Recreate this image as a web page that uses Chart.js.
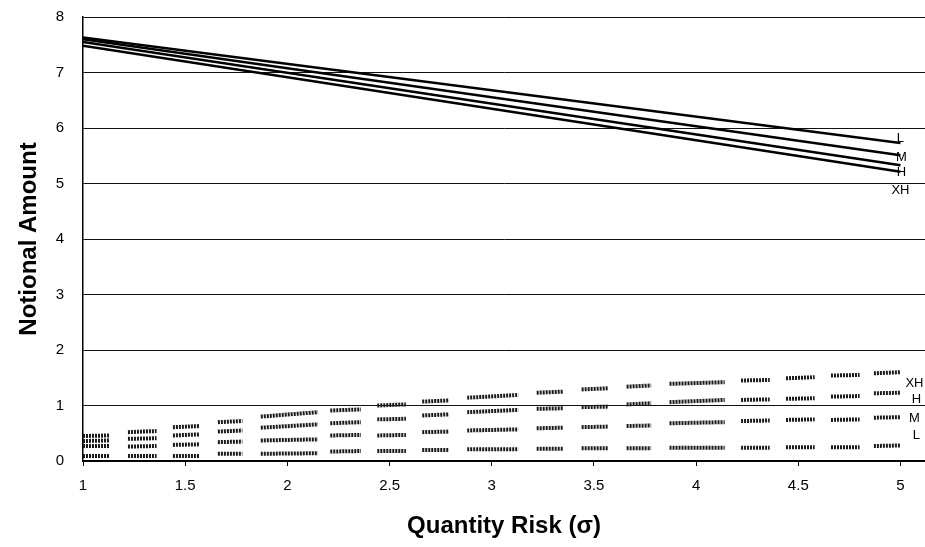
<!DOCTYPE html>
<html>
<head>
<meta charset="utf-8">
<script src="https://cdn.jsdelivr.net/npm/chart.js@4.4.1/dist/chart.umd.min.js"></script>
<style>
    body { margin: 0; background: #fff; }
    #wrap { width: 925px; height: 547px; }
</style>
</head>
<body>
<div id="wrap"><canvas id="chart"></canvas></div>
<script>
// upper straight lines: value at sigma = 1 and sigma = 5
const topX = [1, 5];
const topL = [7.63, 5.73];
const topM = [7.60, 5.51];
const topH = [7.55, 5.33];
const topXH = [7.48, 5.21];

// lower series are drawn as short runs (start / end sigma of each run)
const runStart = [1.00, 1.22, 1.44, 1.66, 1.87, 2.21, 2.44, 2.66, 2.88, 3.22, 3.44, 3.66, 3.87, 4.22, 4.44, 4.66, 4.87];
const runEnd   = [1.13, 1.36, 1.57, 1.78, 2.15, 2.36, 2.58, 2.79, 3.13, 3.35, 3.57, 3.78, 4.14, 4.36, 4.58, 4.80, 5.00];

// [value at run start, value at run end]
const lowXH = [[.45,.46],[.52,.54],[.61,.63],[.70,.72],[.80,.88],[.91,.93],[1.00,1.02],[1.07,1.09],[1.14,1.19],[1.23,1.25],[1.29,1.31],[1.34,1.36],[1.39,1.42],[1.45,1.46],[1.49,1.51],[1.54,1.55],[1.58,1.60]];
const lowH  = [[.36,.37],[.40,.41],[.46,.48],[.53,.55],[.60,.66],[.68,.70],[.75,.76],[.82,.84],[.88,.92],[.94,.95],[.97,.98],[1.02,1.04],[1.06,1.10],[1.10,1.11],[1.12,1.13],[1.16,1.17],[1.22,1.23]];
const lowM  = [[.27,.27],[.26,.27],[.29,.30],[.34,.35],[.37,.39],[.46,.47],[.46,.47],[.52,.53],[.55,.57],[.59,.60],[.61,.62],[.63,.64],[.68,.70],[.72,.73],[.74,.75],[.74,.75],[.78,.79]];
const lowL  = [[.09,.09],[.09,.09],[.09,.09],[.13,.13],[.13,.14],[.17,.18],[.18,.18],[.20,.20],[.21,.21],[.22,.22],[.23,.23],[.23,.23],[.24,.24],[.24,.24],[.25,.25],[.25,.25],[.27,.28]];

const xTicks = [1, 1.5, 2, 2.5, 3, 3.5, 4, 4.5, 5];

// label placement next to each series end (pixel offsets)
const labelStyle = {
    topL:  { dx: 0,  dy: -5 },
    topM:  { dx: 1,  dy: 2 },
    topH:  { dx: 1,  dy: 7 },
    topXH: { dx: 0,  dy: 19 },
    lowXH: { dx: 14, dy: 11 },
    lowH:  { dx: 16, dy: 7 },
    lowM:  { dx: 14, dy: 1 },
    lowL:  { dx: 16, dy: -10 }
};

const FONT = "'Liberation Sans', Arial, sans-serif";

const topData = (vals) => topX.map((x, i) => ({ x: x, y: vals[i] }));

const lowData = (pairs) => {
    const out = [];
    pairs.forEach((p, i) => {
        out.push({ x: runStart[i], y: p[0] });
        out.push({ x: runEnd[i], y: p[1] });
        if (i < pairs.length - 1) {
            out.push({ x: (runEnd[i] + runStart[i + 1]) / 2, y: null });
        }
    });
    return out;
};

const topSet = (key, vals) => ({
    label: key,
    data: topData(vals),
    borderColor: "#000",
    borderWidth: 2.5,
    pointRadius: 0,
    tension: 0
});

const lowSet = (key, vals) => ({
    label: key,
    data: lowData(vals),
    borderColor: "#1a1a1a",
    borderWidth: 4,
    borderDash: [2, 1],
    borderCapStyle: "butt",
    pointRadius: 0,
    spanGaps: false,
    tension: 0
});

const endLabels = {
    id: "endLabels",
    afterDatasetsDraw(chart) {
        const ctx = chart.ctx;
        const xs = chart.scales.x;
        const ys = chart.scales.y;
        ctx.save();
        ctx.font = "13px " + FONT;
        ctx.fillStyle = "#000";
        ctx.textAlign = "center";
        ctx.textBaseline = "middle";
        chart.data.datasets.forEach((ds) => {
            const pts = ds.data;
            const last = pts[pts.length - 1];
            const st = labelStyle[ds.label];
            const text = ds.label.replace(/^(top|low)/, "");
            ctx.fillText(text, xs.getPixelForValue(5) + st.dx, ys.getPixelForValue(last.y) + st.dy);
        });
        ctx.restore();
    }
};

new Chart(document.querySelector("#chart"), {
    type: "line",
    data: {
        datasets: [
            topSet("topL", topL),
            topSet("topM", topM),
            topSet("topH", topH),
            topSet("topXH", topXH),
            lowSet("lowXH", lowXH),
            lowSet("lowH", lowH),
            lowSet("lowM", lowM),
            lowSet("lowL", lowL)
        ]
    },
    options: {
        responsive: true,
        maintainAspectRatio: false,
        animation: false,
        layout: {
            padding: { top: 17, right: 0, left: 0, bottom: 0 }
        },
        scales: {
            x: {
                type: "linear",
                min: 1,
                max: 5.12,
                afterBuildTicks: (scale) => {
                    scale.ticks = xTicks.map((v) => ({ value: v }));
                },
                afterFit: (scale) => {
                    scale.height = 86;
                    scale.paddingLeft = 0;
                    scale.paddingRight = 0;
                },
                ticks: {
                    color: "#000",
                    padding: 11,
                    maxRotation: 0,
                    font: { family: FONT, size: 15 },
                    callback: (v) => String(v)
                },
                grid: {
                    drawOnChartArea: false,
                    tickLength: 5,
                    color: "#000"
                },
                border: { color: "#000", width: 1.5 },
                title: {
                    display: true,
                    text: "Quantity Risk (σ)",
                    color: "#000",
                    font: { family: FONT, size: 24, weight: "bold" },
                    padding: { top: 0, bottom: 6 }
                }
            },
            y: {
                min: 0,
                max: 8,
                afterFit: (scale) => {
                    scale.width = 83;
                    scale.paddingTop = 0;
                    scale.paddingBottom = 0;
                },
                ticks: {
                    stepSize: 1,
                    color: "#000",
                    padding: 19,
                    font: { family: FONT, size: 15 }
                },
                grid: {
                    color: "#111",
                    lineWidth: 1,
                    drawTicks: false
                },
                border: { color: "#000", width: 1.5 },
                title: {
                    display: true,
                    text: "Notional Amount",
                    color: "#000",
                    font: { family: FONT, size: 24, weight: "bold" },
                    padding: { top: 15, bottom: 0 }
                }
            }
        },
        plugins: {
            legend: { display: false },
            tooltip: { enabled: false }
        }
    },
    plugins: [endLabels]
});
</script>
</body>
</html>
